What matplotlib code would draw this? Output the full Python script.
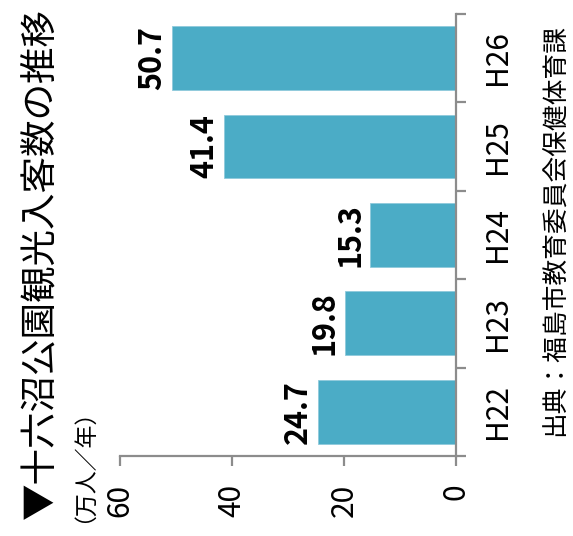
import matplotlib
matplotlib.use('Agg')
import matplotlib.pyplot as plt
import numpy as np

# data (万人／年)
years = ['H22', 'H23', 'H24', 'H25', 'H26']
visitors = [24.7, 19.8, 15.3, 41.4, 50.7]
value_ticks = [0, 20, 40, 60]

title = '▼十六沼公園観光入客数の推移'
unit = '（万人／年）'
source = '出典：福島市教育委員会保健体育課'

bar_color = '#4BACC6'
axis_color = '#8C8C8C'
plt.rcParams['font.family'] = ['Noto Sans CJK JP', 'DejaVu Sans']

W, H = 573, 536
fig = plt.figure(figsize=(W / 100, H / 100), dpi=100)
fig.patch.set_facecolor('white')

# axes box in pixel coords (chart is drawn rotated 90 degrees)
x0, x1 = 120, 456
y_top, y_bot = 13.7, 456
ax = fig.add_axes([x0 / W, 1 - y_bot / H, (x1 - x0) / W, (y_bot - y_top) / H])

pos = np.arange(len(years))
ax.barh(pos, visitors, height=0.72, color=bar_color, edgecolor='#8FCADB', linewidth=0.6)

ax.set_xlim(60, 0)
ax.set_ylim(-0.5, len(years) - 0.5)

for s in ['left', 'top']:
    ax.spines[s].set_visible(False)
for s in ['right', 'bottom']:
    ax.spines[s].set_color(axis_color)
    ax.spines[s].set_linewidth(1.6)

# value axis
ax.set_xticks(value_ticks)
ax.set_xticklabels([str(v) for v in value_ticks])
ax.tick_params(axis='x', direction='out', length=7, width=1.6, color=axis_color,
               labelsize=21.5, pad=13, labelrotation=90)

# category axis
ax.yaxis.tick_right()
ax.set_yticks(pos)
ax.set_yticklabels(years)
ax.set_yticks(np.arange(-0.5, len(years)), minor=True)
ax.tick_params(axis='y', which='major', length=0, labelsize=21.5, pad=19, labelrotation=90)
ax.tick_params(axis='y', which='minor', direction='out', length=7.5, width=1.6, color=axis_color)
for lab in ax.get_yticklabels():
    lab.set_va('center')

# value labels
for i, v in enumerate(visitors):
    ax.annotate(f'{v}', xy=(v, i), xytext=(-3, 0), textcoords='offset points',
                rotation=90, ha='right', va='center', fontsize=22, fontweight='bold')

fig.text(40 / W, 1 - 519 / H, title, rotation=90, ha='center', va='bottom', fontsize=26.3)
fig.text(72 / W, 1 - 523 / H, unit, rotation=90, ha='center', va='bottom', fontsize=16.5)
fig.text(556 / W, 1 - 436 / H, source, rotation=90, ha='center', va='bottom', fontsize=18.5)

fig.savefig('out.png', dpi=100)
